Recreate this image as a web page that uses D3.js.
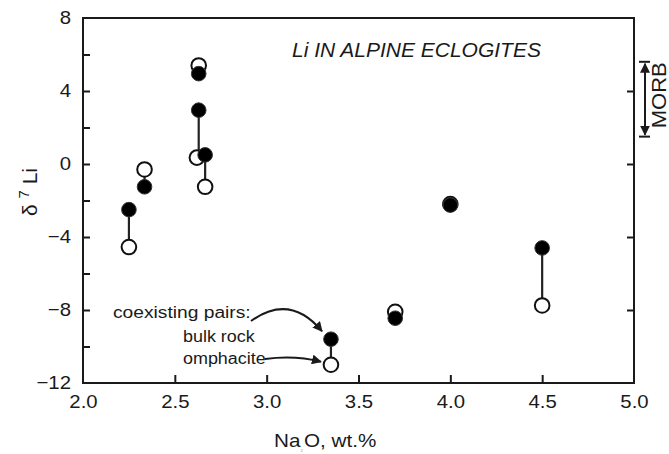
<!DOCTYPE html>
<html>
<head>
<meta charset="utf-8">
<script src="https://cdn.jsdelivr.net/npm/d3@7"></script>
<style>
  html, body { margin: 0; padding: 0; background: #fff; }
  svg { display: block; font-family: "Liberation Sans", Arial, Helvetica, sans-serif; }
</style>
</head>
<body>
<svg id="chart" width="669" height="454"></svg>
<script>
// Coexisting bulk rock / omphacite pairs (Na2O in wt.%, δ7Li in ‰)
const bulkNa = [2.25, 2.335, 2.63, 2.63, 2.665, 3.35, 3.70, 4.00, 4.50];
const bulkLi = [-2.5, -1.25, 4.95, 2.95, 0.5, -9.6, -8.45, -2.25, -4.6];
const omphNa = [2.25, 2.335, 2.63, 2.62, 2.665, 3.35, 3.70, 4.00, 4.50];
const omphLi = [-4.55, -0.3, 5.4, 0.35, -1.25, -11.0, -8.1, -2.2, -7.75];

// MORB range of δ7Li
const morbRange = [1.5, 5.6];

// Axis ticks
const xTicks = [2.0, 2.5, 3.0, 3.5, 4.0, 4.5, 5.0];
const yLabelTicks = [8, 4, 0, -4, -8, -12];
const yLeftTicks = [6, 4, 2, 0, -2, -4, -6, -8, -10];
const yRightTicks = [4, 0, -4, -8];

const W = 669, H = 454;
const margin = { left: 83, right: 35, top: 18, bottom: 71 };
const x0 = margin.left, x1 = W - margin.right;
const y0 = margin.top, y1 = H - margin.bottom;
const ink = "#1a1a1a";
const WIDE = 1.1; // labels are set slightly wider than the plain face

const x = d3.scaleLinear().domain([2.0, 5.0]).range([x0, x1]);
const y = d3.scaleLinear().domain([-12, 8]).range([y1, y0]);

const svg = d3.select("#chart");

// Stretch a text run horizontally by factor k
function widen(sel, k) {
  sel.each(function () {
    const L = this.getComputedTextLength();
    d3.select(this).attr("textLength", L * k).attr("lengthAdjust", "spacingAndGlyphs");
  });
}

// Frame
svg.append("rect")
  .attr("x", x0).attr("y", y0)
  .attr("width", x1 - x0).attr("height", y1 - y0)
  .attr("fill", "none").attr("stroke", ink).attr("stroke-width", 2);

// Left axis: inward ticks every 2 units, labels every 4
svg.append("g")
  .attr("transform", `translate(${x0},0)`)
  .call(d3.axisRight(y).tickValues(yLeftTicks).tickSize(7).tickFormat(""))
  .call(g => g.select(".domain").remove())
  .call(g => g.selectAll("line").attr("stroke", ink).attr("stroke-width", 2));

svg.append("g")
  .attr("transform", `translate(${x0},0)`)
  .call(d3.axisLeft(y).tickValues(yLabelTicks).tickSize(0).tickPadding(12).tickFormat(d3.format("d")))
  .call(g => g.select(".domain").remove())
  .call(g => g.selectAll("text")
    .attr("font-size", 18.5).attr("fill", ink)
    .attr("font-family", "Liberation Sans, Arial, sans-serif")
    .call(widen, WIDE));

// Right axis: inward ticks
svg.append("g")
  .attr("transform", `translate(${x1},0)`)
  .call(d3.axisLeft(y).tickValues(yRightTicks).tickSize(7).tickFormat(""))
  .call(g => g.select(".domain").remove())
  .call(g => g.selectAll("line").attr("stroke", ink).attr("stroke-width", 2));

// Bottom axis: inward ticks and labels
svg.append("g")
  .attr("transform", `translate(0,${y1})`)
  .call(d3.axisTop(x).tickValues(xTicks.slice(1, -1)).tickSize(8).tickFormat(""))
  .call(g => g.select(".domain").remove())
  .call(g => g.selectAll("line").attr("stroke", ink).attr("stroke-width", 2));

svg.append("g")
  .attr("transform", `translate(0,${y1})`)
  .call(d3.axisBottom(x).tickValues(xTicks).tickSize(0).tickPadding(12).tickFormat(d3.format(".1f")))
  .call(g => g.select(".domain").remove())
  .call(g => g.selectAll("text")
    .attr("font-size", 18.5).attr("fill", ink)
    .attr("font-family", "Liberation Sans, Arial, sans-serif")
    .call(widen, WIDE));

// Axis titles
const xt = svg.append("text")
  .attr("x", 274).attr("y", 447)
  .attr("font-size", 19).attr("fill", ink);
xt.append("tspan").text("Na");
xt.append("tspan").attr("font-size", 4).attr("dy", 5).attr("fill", "#999").text("2");
xt.append("tspan").attr("dy", -5).attr("dx", 1).text("O, wt.%");
xt.call(widen, 1.1);

const yt = svg.append("text")
  .attr("transform", "translate(37,192) rotate(-90)")
  .attr("text-anchor", "middle")
  .attr("font-size", 21).attr("fill", ink);
yt.append("tspan").text("δ ");
yt.append("tspan").attr("font-size", 15).attr("dy", -8).text("7");
yt.append("tspan").attr("dy", 8).text(" Li");

// Title
svg.append("text")
  .attr("x", 292).attr("y", 57)
  .attr("font-size", 21).attr("font-style", "italic").attr("fill", ink)
  .text("Li IN ALPINE ECLOGITES");

// Arrowhead marker
const defs = svg.append("defs");
defs.append("marker")
  .attr("id", "head")
  .attr("viewBox", "0 0 10 10")
  .attr("refX", 9).attr("refY", 5)
  .attr("markerWidth", 5).attr("markerHeight", 5)
  .attr("markerUnits", "strokeWidth")
  .attr("orient", "auto-start-reverse")
  .append("path").attr("d", "M0,0 L10,5 L0,10 z").attr("fill", ink);

// MORB range bracket
const mx = 645;
svg.append("line")
  .attr("x1", mx).attr("x2", mx)
  .attr("y1", y(morbRange[0]) - 2).attr("y2", y(morbRange[1]) + 2)
  .attr("stroke", ink).attr("stroke-width", 2)
  .attr("marker-start", "url(#head)").attr("marker-end", "url(#head)");
morbRange.forEach(v => {
  svg.append("line")
    .attr("x1", mx - 6).attr("x2", mx + 5)
    .attr("y1", y(v)).attr("y2", y(v))
    .attr("stroke", ink).attr("stroke-width", 2);
});
svg.append("text")
  .attr("transform", `translate(666,${(y(morbRange[0]) + y(morbRange[1])) / 2 - 4}) rotate(-90)`)
  .attr("text-anchor", "middle")
  .attr("font-size", 20).attr("fill", ink)
  .text("MORB")
  .call(widen, WIDE);

// Tie lines between coexisting phases
const pairs = bulkNa.map((n, i) => ({ nb: n, lb: bulkLi[i], no: omphNa[i], lo: omphLi[i] }));
svg.append("g").selectAll("line").data(pairs).join("line")
  .attr("x1", d => x(d.nb)).attr("x2", d => x(d.nb))
  .attr("y1", d => y(d.lb)).attr("y2", d => y(d.lo))
  .attr("stroke", "#222").attr("stroke-width", 2.2);

// Omphacite (open circles)
svg.append("g").selectAll("circle").data(pairs).join("circle")
  .attr("cx", d => x(d.no)).attr("cy", d => y(d.lo)).attr("r", 7.3)
  .attr("fill", "#fff").attr("stroke", "#111").attr("stroke-width", 2);

// Bulk rock (filled circles)
svg.append("g").selectAll("circle").data(pairs).join("circle")
  .attr("cx", d => x(d.nb)).attr("cy", d => y(d.lb)).attr("r", 7.3)
  .attr("fill", "#000").attr("stroke", "#333").attr("stroke-width", 1);

// Key annotation
const note = svg.append("g").attr("font-size", 16).attr("fill", ink);
note.append("text").attr("x", 113).attr("y", 318).text("coexisting pairs:").call(widen, 1.2);
note.append("text").attr("x", 183).attr("y", 342).text("bulk rock").call(widen, 1.12);
note.append("text").attr("x", 183).attr("y", 364).text("omphacite").call(widen, 1.12);

const kb = pairs[5];
svg.append("path")
  .attr("d", `M251,321 Q290,293 ${x(kb.nb) - 9},${y(kb.lb) - 8}`)
  .attr("fill", "none").attr("stroke", ink).attr("stroke-width", 2)
  .attr("marker-end", "url(#head)");
svg.append("path")
  .attr("d", `M265,359 Q295,355 ${x(kb.no) - 10},${y(kb.lo) - 3}`)
  .attr("fill", "none").attr("stroke", ink).attr("stroke-width", 2)
  .attr("marker-end", "url(#head)");
</script>
</body>
</html>
